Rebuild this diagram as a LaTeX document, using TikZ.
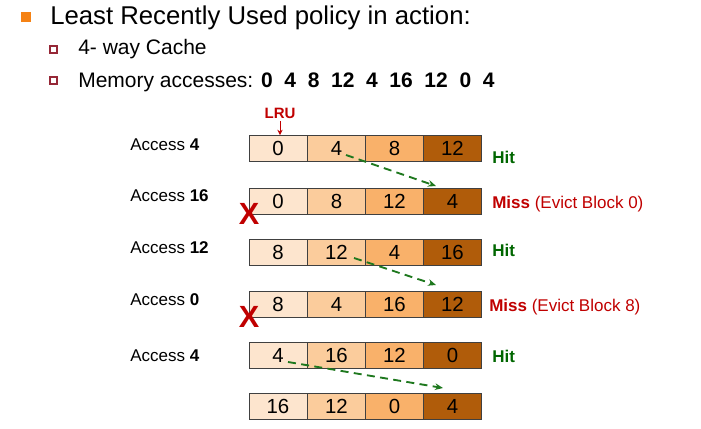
\documentclass[tikz,border=0pt]{standalone}
\usepackage{fontspec}
\setmainfont{Liberation Sans}
\usetikzlibrary{arrows.meta}
\definecolor{cA}{RGB}{253,229,206}
\definecolor{cB}{RGB}{251,204,156}
\definecolor{cC}{RGB}{249,177,106}
\definecolor{cD}{RGB}{176,92,10}
\definecolor{myred}{RGB}{192,0,0}
\definecolor{mygreen}{RGB}{0,102,0}
\definecolor{dgreen}{RGB}{30,120,30}
\definecolor{bulletorange}{RGB}{245,130,20}
\definecolor{subbullet}{RGB}{150,40,55}
\begin{document}
\begin{tikzpicture}[x=0.75pt,y=-0.75pt,
  cell/.style={draw=black!75,line width=0.7pt,minimum width=43.5pt,minimum height=19.5pt,inner sep=0pt,font=\fontsize{15.3}{18}\selectfont},
  lbl/.style={anchor=base west,inner sep=0pt,font=\fontsize{12.75}{15}\selectfont},
  hit/.style={lbl,text=mygreen,font=\fontsize{12.75}{15}\selectfont\bfseries},
  miss/.style={lbl,text=myred},
  xmark/.style={anchor=base,inner sep=0pt,text=myred,font=\fontsize{23}{25}\selectfont\bfseries},
  move/.style={draw=dgreen,line width=1.4pt,dash pattern=on 6pt off 4pt,-{Stealth[length=6pt,width=5pt]}}
]
\useasboundingbox (0,0) rectangle (701,429);

% header
\fill[bulletorange] (21,12) rectangle (31,22);
\node[anchor=base west,inner sep=0pt,font=\fontsize{19.3}{22}\selectfont] (title) at (50,24) {Least Recently Used policy in action:};
\draw[subbullet,line width=1.1pt,fill=white] (50,46) rectangle (57,53);
\node[anchor=base west,inner sep=0pt,font=\fontsize{15.75}{18}\selectfont] (sub1) at (78,54.5) {4- way Cache};
\draw[subbullet,line width=1.1pt,fill=white] (50,77) rectangle (57,84);
\node[anchor=base west,inner sep=0pt,font=\fontsize{15.75}{18}\selectfont] (sub2) at (78,87.5) {Memory accesses: \textbf{0\ \ 4\ \ 8\ \ 12\ \ 4\ \ 16\ \ 12\ \ 0\ \ 4}};

% cache rows
\foreach \r/\y/\a/\b/\c/\d in {1/148.5/0/4/8/12, 2/201/0/8/12/4, 3/252/8/12/4/16, 4/304/8/4/16/12, 5/355.5/4/16/12/0, 6/406.5/16/12/0/4}{
  \node[cell,fill=cA] (c\r-1) at (278,\y) {\a};
  \node[cell,fill=cB] (c\r-2) at (336.5,\y) {\b};
  \node[cell,fill=cC] (c\r-3) at (394.5,\y) {\c};
  \node[cell,fill=cD] (c\r-4) at (452.5,\y) {\d};
}

% LRU marker
\node[inner sep=0pt,anchor=base,text=myred,font=\fontsize{11.25}{13}\selectfont\bfseries] (lru) at (280,118) {LRU};
\draw[myred,line width=0.7pt,-{Stealth[length=4pt,width=4pt]}] ([yshift=-2pt]lru.south) -- (lru.south |- c1-1.north);

% access labels
\node[lbl] (a1) at (130,150.7) {Access \textbf{4}};
\node[lbl] (a2) at (130,201.7) {Access \textbf{16}};
\node[lbl] (a3) at (130,253) {Access \textbf{12}};
\node[lbl] (a4) at (130,305) {Access \textbf{0}};
\node[lbl] (a5) at (130,361.7) {Access \textbf{4}};

% results
\node[hit] (h1) at (492,163) {Hit};
\node[miss] (m2) at (492,208) {\textbf{Miss} (Evict Block 0)};
\node[hit] (h3) at (492,256.7) {Hit};
\node[miss] (m4) at (489,311.7) {\textbf{Miss} (Evict Block 8)};
\node[hit] (h5) at (492,362) {Hit};

% evictions
\node[xmark] (x2) at (249,224) {X};
\node[xmark] (x4) at (249,327) {X};

% moves
\coordinate (s1) at (346,155);
\coordinate (e1) at (436,186);
\coordinate (s3) at (354,258);
\coordinate (e3) at (436,285);
\coordinate (s5) at (288,362);
\coordinate (e5) at (443,388);
\draw[move] (s1) -- (e1);
\draw[move] (s3) -- (e3);
\draw[move] (s5) -- (e5);
\end{tikzpicture}
\end{document}
